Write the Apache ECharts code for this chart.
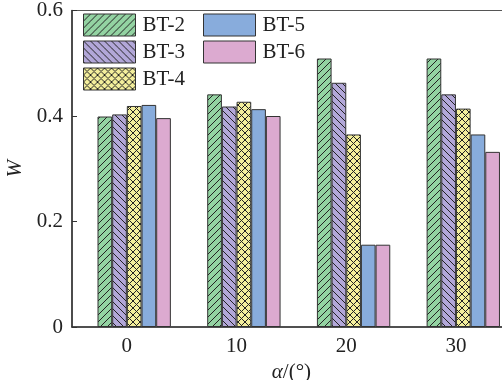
<!DOCTYPE html>
<html>
<head>
<meta charset="utf-8">
<script src="https://cdn.jsdelivr.net/npm/echarts@6/dist/echarts.min.js"></script>
<style>html,body{margin:0;padding:0;background:#fff;}#c{width:502px;height:380px;}</style>
</head>
<body>
<div id="c"></div>
<script>
// ---- data ----
var categories = ['0', '10', '20', '30'];
var seriesNames = ['BT-2', 'BT-3', 'BT-4', 'BT-5', 'BT-6'];
var bt2 = [0.399, 0.441, 0.509, 0.509];
var bt3 = [0.403, 0.418, 0.463, 0.441];
var bt4 = [0.419, 0.427, 0.365, 0.414];
var bt5 = [0.421, 0.413, 0.156, 0.365];
var bt6 = [0.396, 0.400, 0.156, 0.332];
var yTicks = [0, 0.2, 0.4, 0.6];

var colors = ['#93d3a2', '#b2a7d8', '#f4ef9c', '#88acdc', '#dcaad0'];
var patterns = ['/', '\\', 'x', '', ''];

function makePattern(bg, kind) {
  if (!kind) return bg;
  var s = 7;
  var c = document.createElement('canvas');
  c.width = s; c.height = s;
  var g = c.getContext('2d');
  g.fillStyle = bg; g.fillRect(0, 0, s, s);
  g.strokeStyle = '#222'; g.lineWidth = 1;
  function slash() {
    g.beginPath();
    g.moveTo(-1, s + 1); g.lineTo(s + 1, -1);
    g.moveTo(-1, 1); g.lineTo(1, -1);
    g.moveTo(s - 1, s + 1); g.lineTo(s + 1, s - 1);
    g.stroke();
  }
  function back() {
    g.beginPath();
    g.moveTo(-1, -1); g.lineTo(s + 1, s + 1);
    g.moveTo(s - 1, -1); g.lineTo(s + 1, 1);
    g.moveTo(-1, s - 1); g.lineTo(1, s + 1);
    g.stroke();
  }
  if (kind === '/') slash();
  else if (kind === '\\') back();
  else { slash(); back(); }
  return { image: c, repeat: 'repeat' };
}

var values = [bt2, bt3, bt4, bt5, bt6];
var font = '"Liberation Serif", "Times New Roman", Times, serif';

var series = [{
  name: 'dummy', type: 'bar', data: categories.map(function(){ return '-'; }),
  barWidth: 14.67, barGap: '0%', silent: true, itemStyle: { opacity: 0 }
}];
seriesNames.forEach(function (n, i) {
  series.push({
    name: n, type: 'bar', data: values[i],
    barWidth: 14.67, barGap: '0%',
    itemStyle: { color: makePattern(colors[i], patterns[i]), borderColor: '#333', borderWidth: 1 }
  });
});

var legendCommon = {
  orient: 'vertical', icon: 'rect', itemWidth: 52, itemHeight: 22, itemGap: 4, padding: 0,
  textStyle: { fontFamily: font, fontSize: 21, color: '#222', padding: [0, 0, 0, 2] },
  itemStyle: { borderColor: '#333', borderWidth: 1 },
  selectedMode: false
};

var chart = echarts.init(document.getElementById('c'), null, { renderer: 'canvas' });
chart.setOption({
  animation: false,
  backgroundColor: '#fff',
  grid: { left: 72, top: 10.5, bottom: 53, right: -8.8, outerBoundsMode: 'none', containLabel: false,
          show: true, borderColor: '#555', borderWidth: 1.2, backgroundColor: 'transparent' },
  legend: [
    Object.assign({}, legendCommon, { left: 83, top: 13.5, data: seriesNames.slice(0, 3) }),
    Object.assign({}, legendCommon, { left: 203, top: 13.5, data: seriesNames.slice(3) })
  ],
  xAxis: {
    type: 'category', data: categories,
    axisLine: { lineStyle: { color: '#333', width: 1.5 } },
    axisTick: { show: false },
    axisLabel: { fontFamily: font, fontSize: 21, color: '#222', margin: 9 },
    name: '{a|α}/(°)', nameLocation: 'middle', nameGap: 24,
    nameTextStyle: { fontFamily: font, fontSize: 21, color: '#222', rich: { a: { fontFamily: font, fontSize: 21, fontStyle: 'italic', color: '#222' } } }
  },
  yAxis: {
    type: 'value', min: yTicks[0], max: yTicks[yTicks.length - 1], interval: 0.2,
    splitLine: { show: false },
    axisLine: { show: true, lineStyle: { color: '#333', width: 1.5 } },
    axisTick: { show: true, inside: true, length: 5, lineStyle: { color: '#333' } },
    axisLabel: { fontFamily: font, fontSize: 21, color: '#222', margin: 9 },
    name: 'W', nameLocation: 'middle', nameGap: 44, nameRotate: 90,
    nameTextStyle: { fontFamily: font, fontSize: 21, fontStyle: 'italic', color: '#222' }
  },
  series: series
});
</script>
</body>
</html>
